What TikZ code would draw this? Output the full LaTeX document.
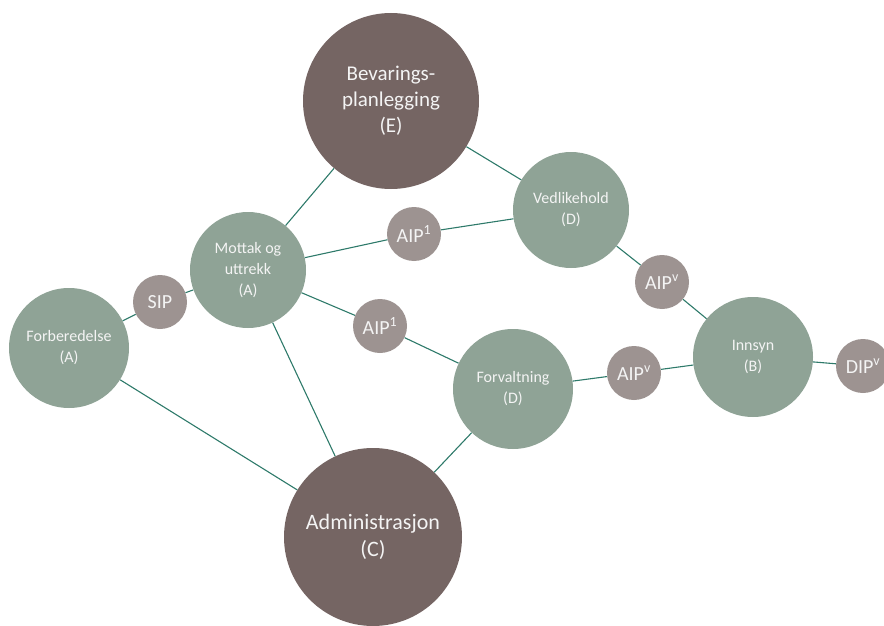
\documentclass[tikz,border=0pt]{standalone}
\usepackage{fontspec}
\setmainfont{Carlito}
\usepackage{tikz}

\definecolor{bigbrown}{HTML}{756563}
\definecolor{stepgreen}{HTML}{8FA396}
\definecolor{pkgrey}{HTML}{9D9391}
\definecolor{linkteal}{HTML}{2E7A6A}
\definecolor{lbltext}{HTML}{F4F4F4}

\tikzset{
  bigcirc/.style={circle, fill=bigbrown, text=lbltext, inner sep=0pt, align=center,
    minimum size=176pt, font=\fontsize{21}{26}\selectfont},
  stepcirc/.style={circle, fill=stepgreen, text=lbltext, inner sep=0pt, align=center,
    minimum size=120pt, font=\fontsize{16}{21}\selectfont},
  pkgcirc/.style={circle, fill=pkgrey, text=lbltext, inner sep=0pt, align=center,
    minimum size=54pt, font=\fontsize{20}{24}\selectfont},
  link/.style={draw=linkteal, line width=1.1pt}
}

\begin{document}
\begin{tikzpicture}[x=1pt, y=-1pt]
\useasboundingbox (0,0) rectangle (884,626);
\node[bigcirc] (bevaring) at (391,101) {Bevarings-\\planlegging\\(E)};
\node[bigcirc, minimum size=178pt, font=\fontsize{22}{27}\selectfont] (admin) at (373,537) {Administrasjon\\(C)};
\node[stepcirc] (forb) at (69,348) {Forberedelse\\(A)};
\node[stepcirc, minimum size=116pt] (mottak) at (248,270) {Mottak og\\uttrekk\\(A)};
\node[stepcirc, minimum size=116pt] (vedl) at (571,210) {Vedlikehold\\(D)};
\node[stepcirc] (forv) at (513,389) {Forvaltning\\(D)};
\node[stepcirc] (innsyn) at (753,357) {Innsyn\\(B)};
\node[pkgcirc] (sip) at (160,302) {SIP};
\node[pkgcirc] (aipa) at (414,234) {AIP\textsuperscript{1}};
\node[pkgcirc] (aipb) at (380,326) {AIP\textsuperscript{1}};
\node[pkgcirc] (aipc) at (662,282) {AIP\textsuperscript{v}};
\node[pkgcirc] (aipd) at (634,373) {AIP\textsuperscript{v}};
\node[pkgcirc] (dip) at (863,366) {DIP\textsuperscript{v}};

\draw[link] (forb) -- (sip) -- (mottak);
\draw[link] (mottak) -- (bevaring);
\draw[link] (bevaring) -- (vedl);
\draw[link] (mottak) -- (aipa) -- (vedl);
\draw[link] (vedl) -- (aipc) -- (innsyn);
\draw[link] (mottak) -- (aipb) -- (forv);
\draw[link] (forv) -- (aipd) -- (innsyn);
\draw[link] (innsyn) -- (dip);
\draw[link] (forb) -- (admin);
\draw[link] (mottak) -- (admin);
\draw[link] (forv) -- (admin);
\end{tikzpicture}
\end{document}
